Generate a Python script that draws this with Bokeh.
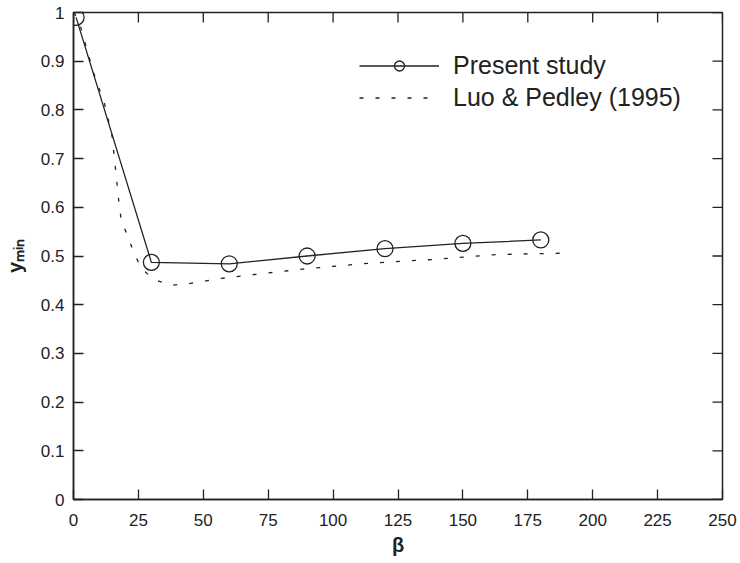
import math
from bokeh.plotting import figure
from bokeh.models import (Range1d, LinearAxis, FixedTicker, Legend, LegendItem)
from bokeh.embed import file_html
from bokeh.resources import INLINE

# ---- data ----
present_beta = [1, 30, 60, 90, 120, 150, 180]
present_ymin = [0.99, 0.487, 0.484, 0.500, 0.515, 0.526, 0.533]

luo_beta = [0, 2, 7.6, 12, 14.9, 16.1, 17.4, 18.4, 21, 23.4, 26.2, 31.2, 37.7, 44.1,
            56.9, 69.7, 88.3, 113.3, 138.9, 163.2, 190]
luo_ymin = [1.0, 0.985, 0.878, 0.812, 0.745, 0.683, 0.615, 0.573, 0.539, 0.505, 0.474,
            0.451, 0.440, 0.443, 0.454, 0.462, 0.473, 0.485, 0.493, 0.503, 0.506]

x_ticks = [0, 25, 50, 75, 100, 125, 150, 175, 200, 225, 250]
y_ticks = [0, 0.1, 0.2, 0.3, 0.4, 0.5, 0.6, 0.7, 0.8, 0.9, 1]
y_tick_labels = {0: "0", 0.1: "0.1", 0.2: "0.2", 0.3: "0.3", 0.4: "0.4", 0.5: "0.5",
                 0.6: "0.6", 0.7: "0.7", 0.8: "0.8", 0.9: "0.9", 1: "1"}

X_MIN, X_MAX = 0, 250
Y_MIN, Y_MAX = 0, 1

FONT = "Liberation Sans"
INK = "#222222"

p = figure(width=740, height=563, output_backend="svg", toolbar_location=None,
           x_range=Range1d(X_MIN, X_MAX), y_range=Range1d(Y_MIN, Y_MAX),
           min_border_left=72, min_border_right=18, min_border_top=12, min_border_bottom=64,
           x_axis_location=None, y_axis_location=None)
p.grid.visible = False
p.background_fill_color = "white"
p.border_fill_color = "white"
p.outline_line_color = INK
p.outline_line_width = 1.5


def style_axis(ax, ticks):
    ax.ticker = FixedTicker(ticks=ticks)
    ax.axis_line_color = INK
    ax.axis_line_width = 1.5
    ax.major_tick_line_color = INK
    ax.major_tick_line_width = 1.3
    ax.major_tick_in = 10
    ax.major_tick_out = 0
    ax.minor_tick_line_color = None
    ax.major_label_text_font = FONT
    ax.major_label_text_color = INK
    ax.major_label_text_font_size = "17px"


xb = LinearAxis()
style_axis(xb, x_ticks)
xb.major_label_standoff = 14
xb.axis_label = "β"
xb.axis_label_text_font = FONT
xb.axis_label_text_font_style = "bold"
xb.axis_label_text_font_size = "20px"
xb.axis_label_text_color = INK
xb.axis_label_standoff = 5
p.add_layout(xb, "below")

yl = LinearAxis()
style_axis(yl, y_ticks)
yl.major_label_standoff = 9
yl.major_label_overrides = y_tick_labels
yl.axis_label = "y\u2098\u1d62\u2099"
yl.axis_label_text_font = FONT
yl.axis_label_text_font_style = "bold"
yl.axis_label_text_font_size = "20px"
yl.axis_label_text_color = INK
yl.axis_label_standoff = 12
p.add_layout(yl, "left")

# mirrored inward ticks on the top and right frame edges
p.ray(x=x_ticks, y=[Y_MAX] * len(x_ticks), length=10, length_units="screen",
      angle=-math.pi / 2, line_color=INK, line_width=1.3)
p.ray(x=[X_MAX] * len(y_ticks), y=y_ticks, length=10, length_units="screen",
      angle=math.pi, line_color=INK, line_width=1.3)

# ---- series ----
luo_line = p.line(luo_beta, luo_ymin, line_color=INK, line_width=1.3, line_dash="4 12")
pres_line = p.line(present_beta, present_ymin, line_color=INK, line_width=1.3)
pres_pts = p.scatter(present_beta, present_ymin, marker="circle", size=16,
                     fill_color=None, line_color=INK, line_width=1.3)

legend = Legend(items=[
    LegendItem(label="Present study", renderers=[pres_line, pres_pts]),
    LegendItem(label="Luo & Pedley (1995)", renderers=[luo_line]),
], location=(286, 387))
legend.glyph_width = 80
legend.glyph_height = 25
legend.label_height = 25
legend.spacing = 3
legend.padding = 0
legend.margin = 0
legend.label_standoff = 14
legend.label_text_font = FONT
legend.label_text_font_size = "25px"
legend.label_text_color = INK
legend.border_line_color = None
legend.background_fill_alpha = 0
p.add_layout(legend, "center")

open("out.html", "w").write(file_html(p, INLINE))
